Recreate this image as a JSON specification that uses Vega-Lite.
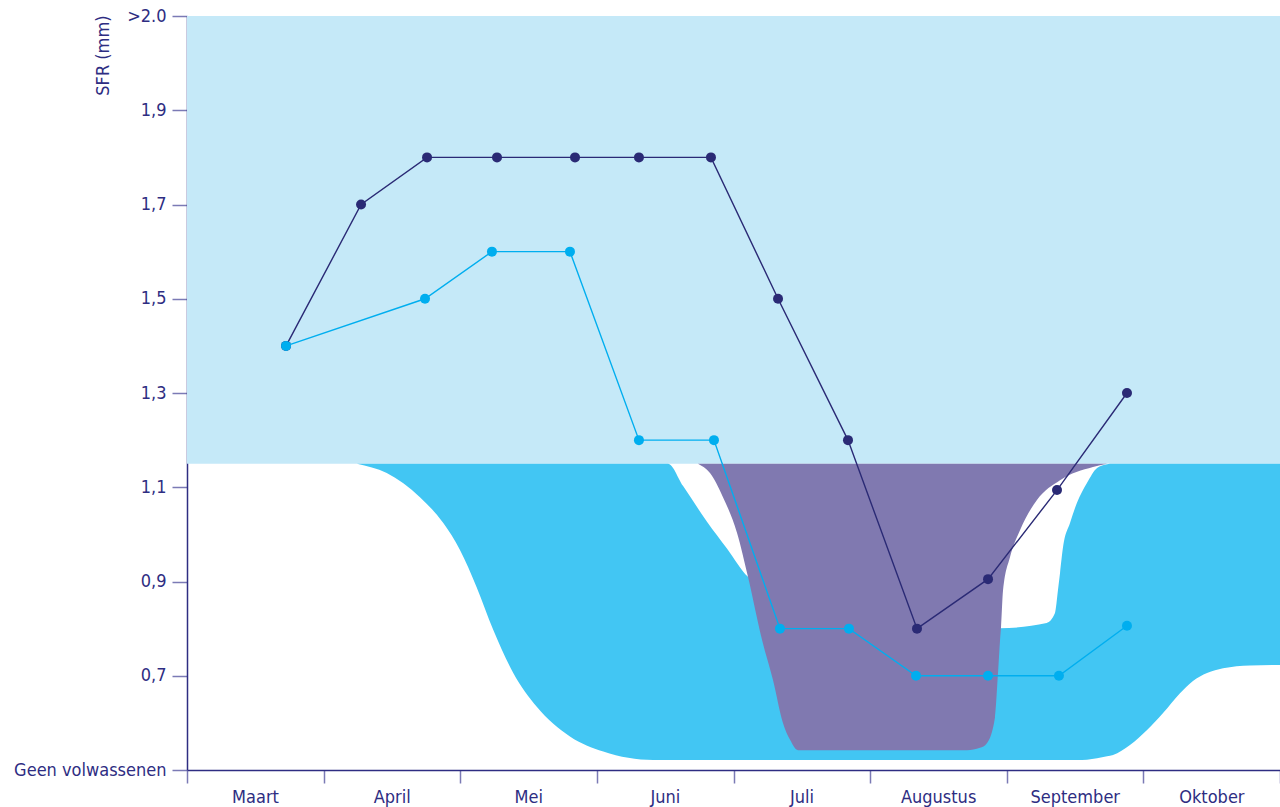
{
  "$schema": "https://vega.github.io/schema/vega-lite/v6.json",
  "width": 1093,
  "height": 754,
  "autosize": {"type": "none"},
  "padding": {"left": 187, "top": 16, "right": 0, "bottom": 37},
  "background": "white",
  "config": {
    "view": {"stroke": null},
    "font": "DejaVu Sans Condensed",
    "axis": {"labelFont": "DejaVu Sans Condensed", "titleFont": "DejaVu Sans Condensed", "grid": false}
  },
  "datasets": {
    "bg": [{"m": 0, "m2": 8, "v": 2.1, "v2": 1.15}],
    "cyan": [
      {"m": 1.244, "v": 1.15, "v2": 1.15},
      {"m": 1.462, "v": 1.15, "v2": 1.13},
      {"m": 1.705, "v": 1.15, "v2": 1.079},
      {"m": 1.876, "v": 1.15, "v2": 1.024},
      {"m": 1.998, "v": 1.15, "v2": 0.967},
      {"m": 2.12, "v": 1.15, "v2": 0.888},
      {"m": 2.242, "v": 1.15, "v2": 0.797},
      {"m": 2.388, "v": 1.15, "v2": 0.706},
      {"m": 2.56, "v": 1.15, "v2": 0.634},
      {"m": 2.803, "v": 1.15, "v2": 0.571},
      {"m": 3.047, "v": 1.15, "v2": 0.539},
      {"m": 3.413, "v": 1.15, "v2": 0.521},
      {"m": 3.521, "v": 1.15, "v2": 0.521},
      {"m": 3.63, "v": 1.103, "v2": 0.521},
      {"m": 3.806, "v": 1.027, "v2": 0.521},
      {"m": 3.952, "v": 0.97, "v2": 0.521},
      {"m": 4.106, "v": 0.91, "v2": 0.521},
      {"m": 4.487, "v": 0.861, "v2": 0.521},
      {"m": 5.219, "v": 0.818, "v2": 0.521},
      {"m": 5.951, "v": 0.801, "v2": 0.521},
      {"m": 6.292, "v": 0.812, "v2": 0.521},
      {"m": 6.353, "v": 0.833, "v2": 0.521},
      {"m": 6.375, "v": 0.882, "v2": 0.521},
      {"m": 6.39, "v": 0.918, "v2": 0.521},
      {"m": 6.412, "v": 0.973, "v2": 0.521},
      {"m": 6.463, "v": 1.024, "v2": 0.521},
      {"m": 6.514, "v": 1.067, "v2": 0.521},
      {"m": 6.587, "v": 1.109, "v2": 0.522},
      {"m": 6.661, "v": 1.141, "v2": 0.525},
      {"m": 6.734, "v": 1.149, "v2": 0.529},
      {"m": 6.778, "v": 1.15, "v2": 0.532},
      {"m": 6.902, "v": 1.15, "v2": 0.553},
      {"m": 7.027, "v": 1.15, "v2": 0.585},
      {"m": 7.144, "v": 1.15, "v2": 0.621},
      {"m": 7.268, "v": 1.15, "v2": 0.663},
      {"m": 7.363, "v": 1.15, "v2": 0.689},
      {"m": 7.466, "v": 1.15, "v2": 0.706},
      {"m": 7.583, "v": 1.15, "v2": 0.716},
      {"m": 7.78, "v": 1.15, "v2": 0.722},
      {"m": 8.0, "v": 1.15, "v2": 0.723}
    ],
    "purple": [
      {"m": 3.74, "v": 1.15, "v2": 1.15},
      {"m": 3.828, "v": 1.15, "v2": 1.13},
      {"m": 3.923, "v": 1.15, "v2": 1.079},
      {"m": 4.026, "v": 1.15, "v2": 1.003},
      {"m": 4.106, "v": 1.15, "v2": 0.91},
      {"m": 4.209, "v": 1.15, "v2": 0.776},
      {"m": 4.289, "v": 1.15, "v2": 0.691},
      {"m": 4.362, "v": 1.15, "v2": 0.6},
      {"m": 4.414, "v": 1.15, "v2": 0.564},
      {"m": 4.472, "v": 1.15, "v2": 0.542},
      {"m": 5.709, "v": 1.15, "v2": 0.542},
      {"m": 5.804, "v": 1.15, "v2": 0.547},
      {"m": 5.855, "v": 1.15, "v2": 0.557},
      {"m": 5.914, "v": 1.15, "v2": 0.612},
      {"m": 5.936, "v": 1.15, "v2": 0.706},
      {"m": 5.951, "v": 1.15, "v2": 0.776},
      {"m": 5.958, "v": 1.15, "v2": 0.803},
      {"m": 5.973, "v": 1.15, "v2": 0.882},
      {"m": 6.024, "v": 1.15, "v2": 0.952},
      {"m": 6.097, "v": 1.15, "v2": 1.009},
      {"m": 6.221, "v": 1.15, "v2": 1.073},
      {"m": 6.39, "v": 1.15, "v2": 1.115},
      {"m": 6.631, "v": 1.15, "v2": 1.143},
      {"m": 6.734, "v": 1.15, "v2": 1.15}
    ],
    "dark": [
      {"m": 0.725, "v": 1.4},
      {"m": 1.274, "v": 1.7},
      {"m": 1.757, "v": 1.8},
      {"m": 2.269, "v": 1.8},
      {"m": 2.84, "v": 1.8},
      {"m": 3.308, "v": 1.8},
      {"m": 3.835, "v": 1.8},
      {"m": 4.326, "v": 1.5},
      {"m": 4.838, "v": 1.2},
      {"m": 5.343, "v": 0.8},
      {"m": 5.863, "v": 0.905},
      {"m": 6.368, "v": 1.094},
      {"m": 6.88, "v": 1.3}
    ],
    "light": [
      {"m": 0.725, "v": 1.4},
      {"m": 1.742, "v": 1.5},
      {"m": 2.232, "v": 1.6},
      {"m": 2.803, "v": 1.6},
      {"m": 3.308, "v": 1.2},
      {"m": 3.857, "v": 1.2},
      {"m": 4.34, "v": 0.8},
      {"m": 4.845, "v": 0.8},
      {"m": 5.336, "v": 0.7},
      {"m": 5.863, "v": 0.7},
      {"m": 6.382, "v": 0.7},
      {"m": 6.88, "v": 0.806}
    ]
  },
  "encoding": {
    "x": {"field": "m", "type": "quantitative", "scale": {"domain": [0, 8], "nice": false, "zero": false},
      "axis": {
        "values": [0, 1, 2, 3, 4, 5, 6, 7, 8],
        "labelExpr": "['Maart','April','Mei','Juni','Juli','Augustus','September','Oktober',''][datum.value]",
        "labelOffset": 68,
        "labelOverlap": false,
        "labelBound": false,
        "labelFlush": false,
        "labelFontSize": 18,
        "labelColor": "#2e2d82",
        "labelPadding": 5,
        "tickSize": 13,
        "tickColor": "#7b7ab5",
        "tickWidth": 1.5,
        "domainColor": "#2e2d82",
        "domainWidth": 1.5,
        "title": null
      }},
    "y": {"field": "v", "type": "quantitative", "scale": {"domain": [0.5, 2.1], "nice": false, "zero": false},
      "axis": {
        "values": [0.5, 0.7, 0.9, 1.1, 1.3, 1.5, 1.7, 1.9, 2.1],
        "labelExpr": "datum.value < 0.6 ? 'Geen volwassenen' : (datum.value > 2.0 ? '>2.0' : replace(format(datum.value, '.1f'), '.', ','))",
        "labelFontSize": 18,
        "labelColor": "#2e2d82",
        "labelPadding": 6,
        "tickSize": 15,
        "tickColor": "#7b7ab5",
        "tickWidth": 1.5,
        "domainColor": "#2e2d82",
        "domainWidth": 1.5,
        "title": "SFR (mm)",
        "titleColor": "#2e2d82",
        "titleFontSize": 18,
        "titleFontWeight": "normal",
        "titleAngle": -90,
        "titleAlign": "right",
        "titleBaseline": "middle",
        "titleX": -84,
        "titleY": -1
      }}
  },
  "layer": [
    {
      "data": {"name": "bg"},
      "mark": {"type": "rect", "color": "#c5e9f8"},
      "encoding": {"x2": {"field": "m2"}, "y2": {"field": "v2"}}
    },
    {
      "data": {"name": "cyan"},
      "mark": {"type": "area", "color": "#42c6f3", "interpolate": "monotone", "opacity": 1},
      "encoding": {"y2": {"field": "v2"}}
    },
    {
      "data": {"name": "purple"},
      "mark": {"type": "area", "color": "#8079b0", "interpolate": "monotone", "opacity": 1},
      "encoding": {"y2": {"field": "v2"}}
    },
    {
      "data": {"name": "dark"},
      "mark": {"type": "line", "color": "#2a2a75", "strokeWidth": 1.4, "point": {"filled": true, "size": 100, "color": "#2a2a75", "opacity": 1}},
      "encoding": {}
    },
    {
      "data": {"name": "light"},
      "mark": {"type": "line", "color": "#00aeef", "strokeWidth": 1.4, "point": {"filled": true, "size": 100, "color": "#00aeef", "opacity": 1}},
      "encoding": {}
    }
  ]
}
